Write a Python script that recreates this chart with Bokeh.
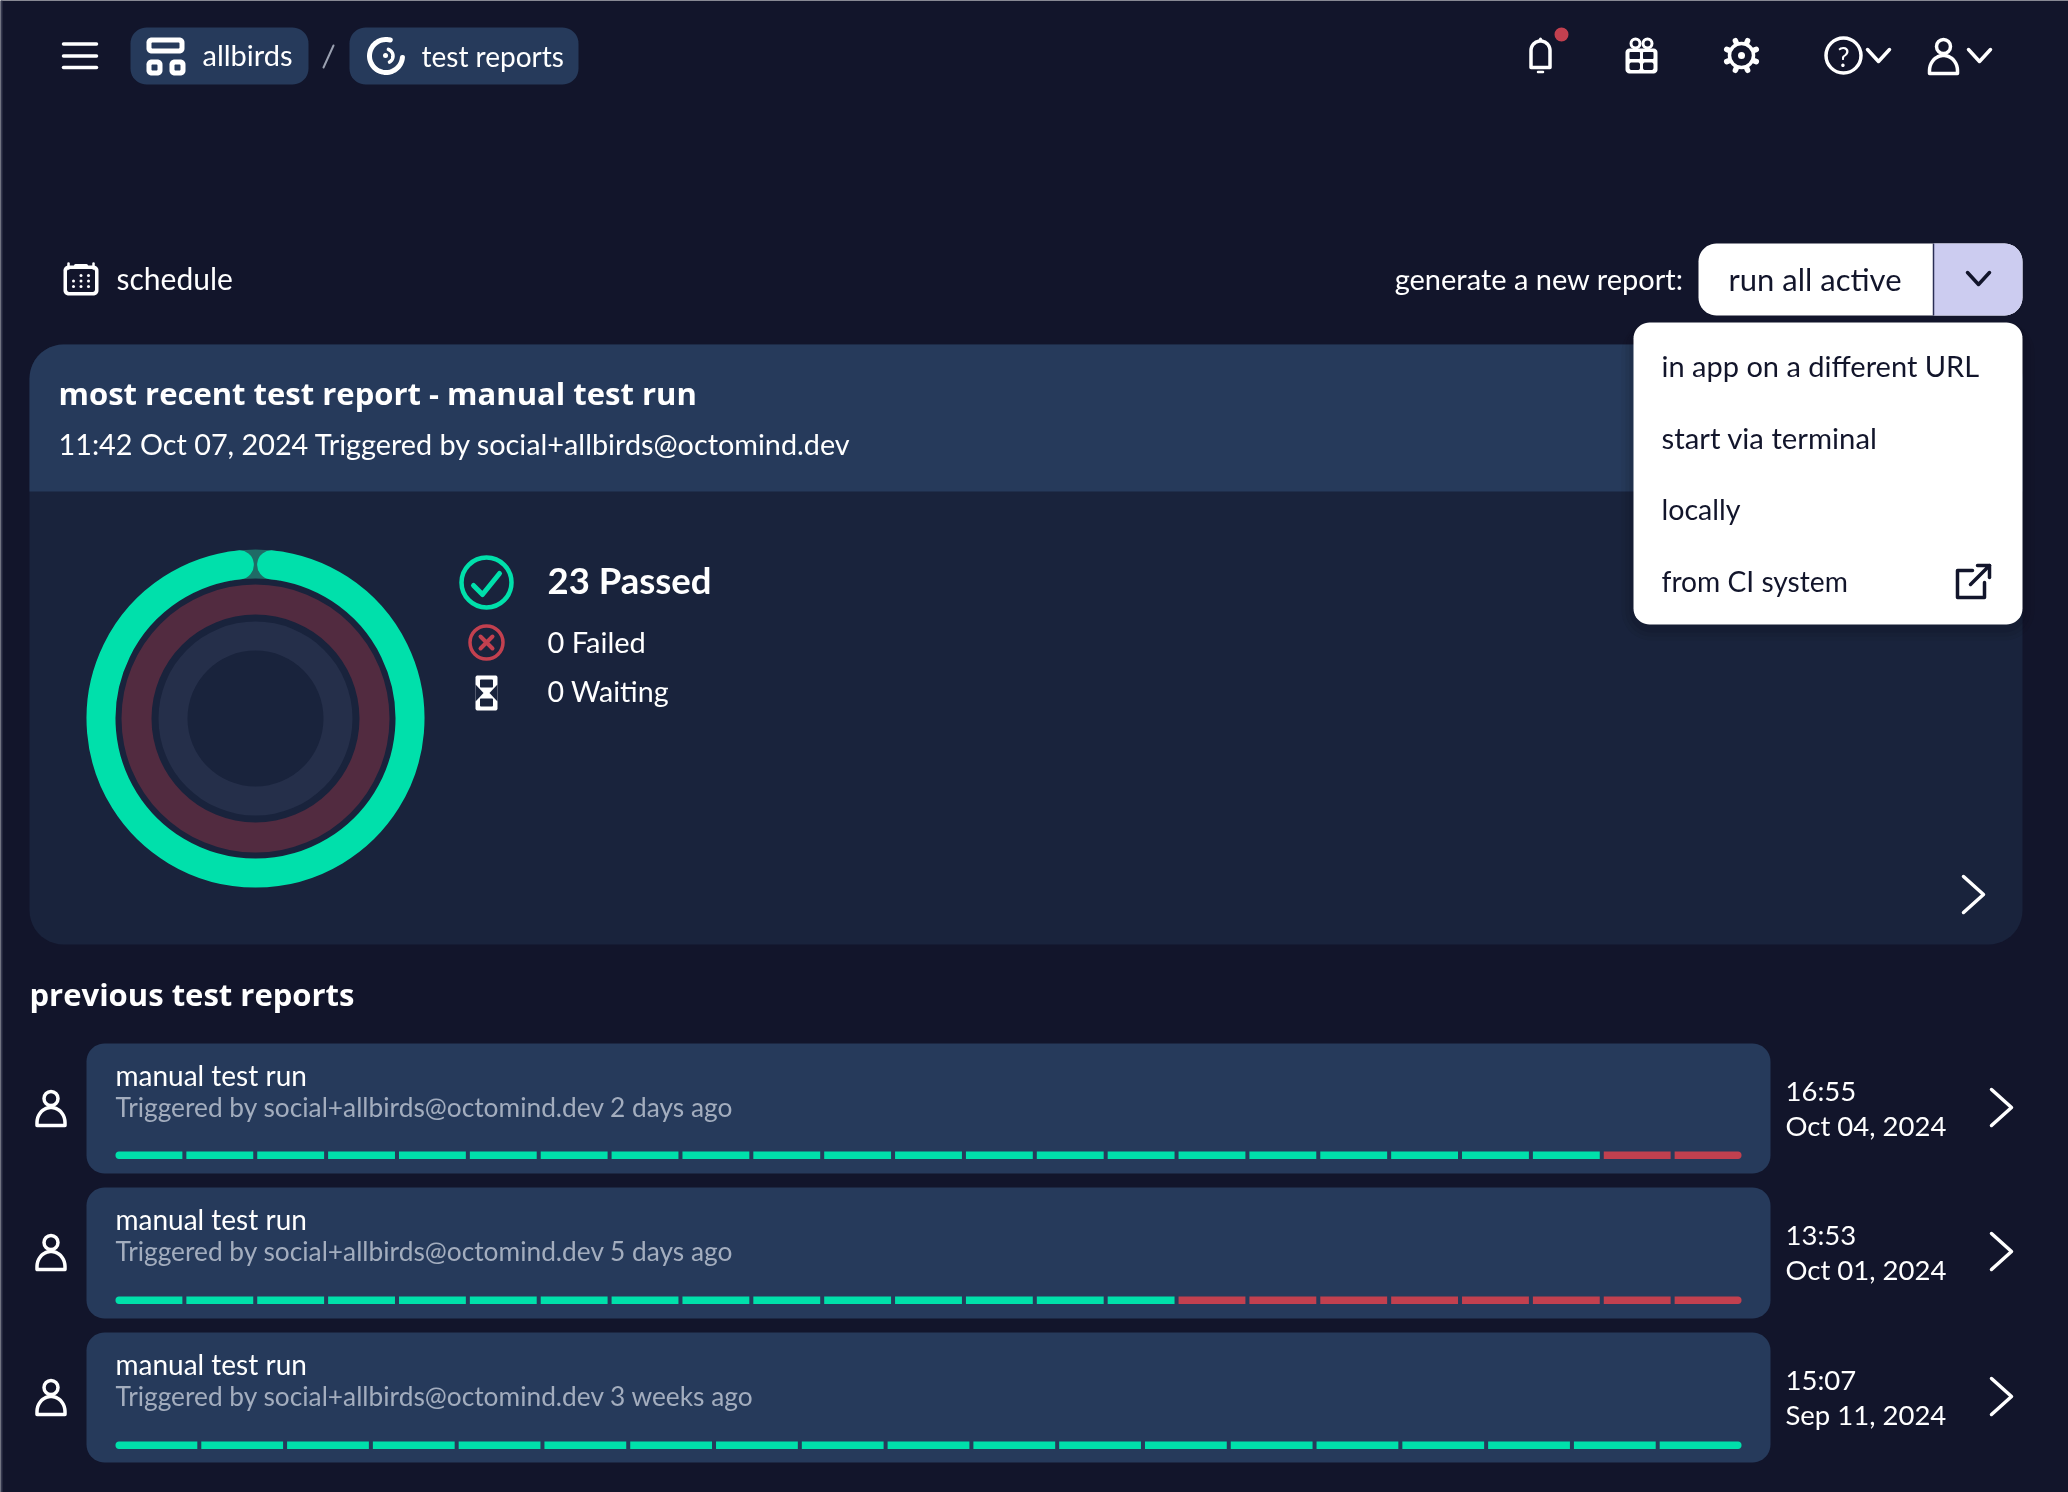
import numpy as np
from bokeh.core.properties import value
from bokeh.plotting import figure
from bokeh.embed import file_html
from bokeh.resources import INLINE

# what the page says
breadcrumbs = ["allbirds", "test reports"]
menu_items = ["in app on a different URL", "start via terminal", "locally", "from CI system"]
latest_title = "most recent test report - manual test run"
latest_sub = "11:42 Oct 07, 2024 Triggered by social+allbirds@octomind.dev"
donut_labels = ["Passed", "Failed", "Waiting"]
donut_values = [23, 0, 0]

# previous runs
run_titles = ["manual test run", "manual test run", "manual test run"]
run_subs = ["Triggered by social+allbirds@octomind.dev 2 days ago",
	"Triggered by social+allbirds@octomind.dev 5 days ago",
	"Triggered by social+allbirds@octomind.dev 3 weeks ago"]
run_times = ["16:55", "13:53", "15:07"]
run_dates = ["Oct 04, 2024", "Oct 01, 2024", "Sep 11, 2024"]
run_passed = [21, 15, 19]
run_failed = [2, 8, 0]

BG = "#12152B"
CARD = "#19233C"
HEAD = "#263A5B"
GREEN = "#00E0AB"
RED = "#C2404F"
WHITE = "#FFFFFF"
INK = "#12152B"
FONT = "Lato"
WIDE = "Open Sans"

p = figure(width=2068, height=1492, x_range=(0, 2068), y_range=(1492, 0),
	x_axis_type=None, y_axis_type=None, output_backend="svg", toolbar_location=None,
	min_border=0, background_fill_color=BG, border_fill_color=BG, outline_line_color=None,
	styles={"position": "fixed", "left": "0px", "top": "0px"})
p.grid.visible = False

def box(x0, y0, x1, y1, r, color, corners=(1, 1, 1, 1), alpha=1.0):
	#corners go top left, top right, bottom right, bottom left
	xs, ys = [], []
	spots = [(x0+r, y0+r, 180), (x1-r, y0+r, 270), (x1-r, y1-r, 0), (x0+r, y1-r, 90)]
	real = [(x0, y0), (x1, y0), (x1, y1), (x0, y1)]
	for i in range(0, 4):
		if corners[i]:
			a = np.radians(np.linspace(spots[i][2], spots[i][2]+90, 12))
			xs += list(spots[i][0]+r*np.cos(a))
			ys += list(spots[i][1]+r*np.sin(a))
		else:
			xs.append(real[i][0])
			ys.append(real[i][1])
	p.patch(xs, ys, fill_color=color, fill_alpha=alpha, line_color=None)

def words(x, y, txt, size, color=WHITE, align="left", style="normal", font=FONT):
	p.text(x=[x], y=[y-1.5], text=[txt], text_font=value(font), text_font_size=str(size)+"px", text_color=color,
		text_align=align, text_baseline="middle", text_font_style=style)

def stroke(xs, ys, color=WHITE, w=3.5):
	p.line(xs, ys, line_color=color, line_width=w, line_cap="round", line_join="round")

def curve(cx, cy, r, a0, a1, color=WHITE, w=3.5):
	#angles in screen degrees, clockwise from the right
	a = np.radians(np.linspace(a0, a1, 50))
	stroke(list(cx+r*np.cos(a)), list(cy+r*np.sin(a)), color, w)

def ring(cx, cy, r, color=WHITE, w=3.5):
	p.circle(x=[cx], y=[cy], radius=r, fill_color=None, line_color=color, line_width=w)

def dot(cx, cy, r, color=WHITE):
	p.circle(x=[cx], y=[cy], radius=r, fill_color=color, line_color=None)

def chevron_down(cx, cy, color=WHITE, w=3.5):
	stroke([cx-11, cx, cx+11], [cy-6, cy+6, cy-6], color, w)

def chevron_right(cx, cy, h=18):
	stroke([cx-10, cx+10, cx-10], [cy-h, cy, cy+h], WHITE, 3.5)

def person(cx, top):
	ring(cx, top+8, 7)
	a = np.radians(np.linspace(180, 360, 20))
	xs = list(cx+14*np.cos(a))+[cx+14, cx-14, cx-14]
	ys = list(top+32+15*np.sin(a))+[top+35, top+35, top+32]
	stroke(xs, ys)

# left edge of the window
p.quad(left=[0], right=[2], top=[0], bottom=[1492], fill_color="#35384F", line_color=None)

# top bar
for y in [43.5, 55.5, 67]:
	stroke([63, 96], [y, y], WHITE, 3.5)
box(130, 27, 308, 84, 16, HEAD)
box(349, 27, 578, 84, 16, HEAD)
box(146, 37, 184, 53, 5, WHITE)
box(151, 42, 179, 48, 1, HEAD)
for x in [146, 169]:
	box(x, 59, x+16, 75, 5, WHITE)
	box(x+5, 64, x+11, 70, 1, HEAD)
curve(385.5, 55.5, 16.5, -75, -355, WHITE, 5)
curve(385.5, 55.5, 7, -70, 60, WHITE, 3.5)
dot(385, 55, 2.5)
words(202, 55.5, breadcrumbs[0], 29)
words(421, 56.5, breadcrumbs[1], 28)
stroke([323, 333], [67, 45], "#9AA0B0", 2)

# bell
a = np.radians(np.linspace(180, 360, 20))
stroke(list(1540+9.5*np.cos(a))+[1549.5, 1530.5, 1530.5], list(50+9.5*np.sin(a))+[67, 67, 50], WHITE, 3.5)
stroke([1540, 1540], [38.5, 40], WHITE, 3)
stroke([1537.5, 1542.5], [71.5, 71.5], WHITE, 2.5)
dot(1561, 34, 7, RED)

# gift
box(1625, 48, 1657, 73, 4, WHITE)
box(1629, 51.5, 1639.5, 58.5, 1, BG)
box(1642.5, 51.5, 1653, 58.5, 1, BG)
box(1629, 62, 1639.5, 69.5, 2, BG)
box(1642.5, 62, 1653, 69.5, 2, BG)
ring(1635, 43, 4.5, WHITE, 3)
ring(1647, 43, 4.5, WHITE, 3)

# gear
for t in range(0, 8):
	ang = np.radians(t*45+22.5)
	stroke([1741+14*np.cos(ang), 1741+16*np.cos(ang)], [55+14*np.sin(ang), 55+16*np.sin(ang)], WHITE, 5.5)
ring(1741, 55, 12, WHITE, 3.5)
dot(1741, 55, 3.5)

# help and user menus
ring(1843, 55, 17.5)
words(1843, 57, "?", 27, align="center")
chevron_down(1878, 55)
person(1943, 38)
chevron_down(1979, 55)

# report controls
box(63, 265, 98, 295, 5, WHITE)
box(66.5, 268.5, 94.5, 291.5, 2.5, BG)
stroke([68, 68], [263, 268], WHITE, 2.5)
stroke([93, 93], [263, 268], WHITE, 2.5)
stroke([75, 86], [265, 265], WHITE, 3)
for gx in [73, 80.5, 88]:
	for gy in [275, 280.5, 286]:
		if not (gx == 73 and gy == 275):
			dot(gx, gy, 1.5)
words(116, 278.5, "schedule", 30)
words(1683, 279.5, "generate a new report:", 29, align="right")
box(1698, 243, 2022, 315, 18, WHITE)
box(1933, 243, 2022, 315, 18, "#CCCCF0", corners=(0, 1, 1, 0))
p.segment(x0=[1933], y0=[243], x1=[1933], y1=[315], line_color="#2B2E55", line_width=1.5)
words(1728, 279.5, "run all active", 31, INK)
chevron_down(1978, 278, INK)

# latest report card
box(29, 344, 2022, 944, 34, CARD)
box(29, 344, 2022, 491, 34, HEAD, corners=(1, 1, 0, 0))
words(58, 393.5, latest_title, 31, style="bold", font=WIDE)
words(58, 445, latest_sub, 28.8)
chevron_right(1973, 894)

# donut, outer ring is passed, the two inner tracks stay empty at zero
total = float(sum(donut_values))
cx, cy = 255, 718
p.annular_wedge(x=[cx], y=[cy], inner_radius=140, outer_radius=169, start_angle=80, end_angle=100,
	start_angle_units="deg", end_angle_units="deg", fill_color="#1F6B66", line_color=None)
span = 360.0*donut_values[0]/total-12
p.arc(x=[cx], y=[cy], radius=154.5, start_angle=96, end_angle=96+span, start_angle_units="deg",
	end_angle_units="deg", line_color=GREEN, line_width=29, line_cap="round")
p.annulus(x=[cx], y=[cy], inner_radius=104, outer_radius=134, fill_color="#522B40", line_color=None)
p.annulus(x=[cx], y=[cy], inner_radius=68, outer_radius=97, fill_color="#252F4A", line_color=None)

# donut legend
ring(486, 582, 25, GREEN, 4.5)
stroke([473, 482, 499], [585, 594, 573], GREEN, 5)
ring(486, 642, 16.5, RED, 3.5)
stroke([480, 492], [636, 648], RED, 4)
stroke([492, 480], [636, 648], RED, 4)
box(475, 675, 497, 710, 2, WHITE)
box(479.5, 679, 492.5, 687, 1, CARD)
box(479.5, 698, 492.5, 706, 1, CARD)
p.patch([475, 483, 475], [684, 692.5, 701], fill_color=CARD, line_color=None)
p.patch([497, 489, 497], [684, 692.5, 701], fill_color=CARD, line_color=None)
words(547, 581, str(donut_values[0])+" "+donut_labels[0], 36.5, style="bold")
words(547, 642, str(donut_values[1])+" "+donut_labels[1], 29)
words(547, 692, str(donut_values[2])+" "+donut_labels[2], 28.6)

# dropdown menu with soft shadow
for grow, al in [(12, 0.05), (8, 0.07), (4, 0.1)]:
	box(1633-grow, 322, 2022+grow, 624+grow+4, 18+grow, "#0A0D1C", alpha=al)
box(1633, 322, 2022, 624, 16, WHITE)
menu_y = [366, 438, 510, 582]
menu_size = [29, 29.3, 28.6, 28.2]
for i in range(0, len(menu_items)):
	words(1661, menu_y[i], menu_items[i], menu_size[i], INK)
stroke([1972, 1957, 1957, 1984, 1984], [570, 570, 597, 597, 582], INK, 3.5)
stroke([1970, 1989, 1977], [584, 565, 565], INK, 3.5)
stroke([1989, 1989], [565, 577], INK, 3.5)

# previous reports
words(29, 995, "previous test reports", 31, style="bold", font=WIDE)
card_tops = [1043, 1187, 1332]
card_bottoms = [1173, 1318, 1462]
bar_tops = [1151, 1296, 1441]
BAR_L, BAR_R, GAP = 115.0, 1741.0, 4.0
for i in range(0, len(run_titles)):
	top = card_tops[i]
	box(86, top, 1770, card_bottoms[i], 18, HEAD)
	person(50.5, top+47)
	words(115, top+33, run_titles[i], 28)
	words(115, top+65, run_subs[i], 26.3, "#A3ADBE")
	words(1785, top+48, run_times[i], 27.5)
	words(1785, top+83, run_dates[i], 27.5)
	chevron_right(2001, top+64)
	count = run_passed[i]+run_failed[i]
	seg = (BAR_R-BAR_L+GAP)/count
	for n in range(0, count):
		left = BAR_L+n*seg
		color = GREEN if n < run_passed[i] else RED
		corners = (n == 0, n == count-1, n == count-1, n == 0)
		box(left, bar_tops[i], left+seg-GAP, bar_tops[i]+7.5, 3.5, color, corners=corners)

open("out.html", "w").write(file_html(p, INLINE))
